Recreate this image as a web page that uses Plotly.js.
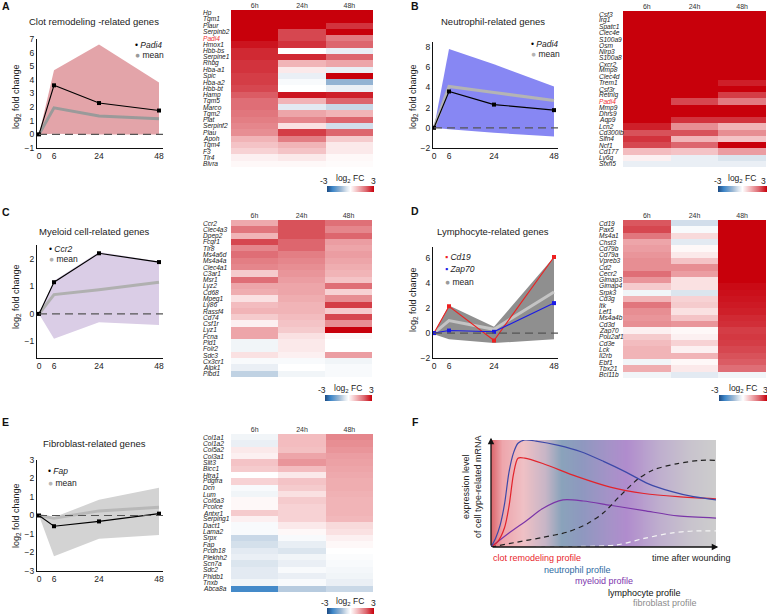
<!DOCTYPE html>
<html><head><meta charset="utf-8">
<script src="https://cdn.plot.ly/plotly-3.0.1.min.js"></script>
<style>html,body{margin:0;padding:0;background:#fff;}#chart{width:767px;height:615px;}</style>
</head><body><div id="chart"></div>
<script>
const W = 767, H = 615;
const FONT = 'Arial, "Liberation Sans", sans-serif';
const px = v => v / W;
const py = v => 1 - v / H;

// ---------- shared ----------
const timeH = [0, 6, 24, 48];
const timeLabels = ['0', '6', '24', '48'];
const hmCols = ['6h', '24h', '48h'];
const cbTicks = [-3, 3];
const cbTitle = 'log<sub>2</sub> FC';
const yTitle = 'log<sub>2</sub> fold change';
const highlightGene = 'Padi4';

// ---------- A: clot remodeling ----------
const clotTitle = 'Clot remodeling -related genes';
const clotPadi4 = [0, 3.6, 2.3, 1.75];
const clotMean = [0, 1.95, 1.35, 1.15];
const clotUpper = [0, 4.7, 6.6, 3.8];
const clotLower = [0, 0.05, 0.0, 0.0];
const clotGenes = ['Hp','Tgm1','Plaur','Serpinb2','Padi4','Hmox1','Hbb-bs','Serpine1','Rhbg','Hba-a1','Spic','Hba-a2','Hbb-bt','Hamp','Tgm5','Marco','Tgm2','Plat','Serpinf2','Plau','Apoh','Tgm4','F3','Tlr4','Blvra'];
const clot6h  = [3,3,3,3,3,2.8,2.6,2.6,2.5,2.5,2.4,2.4,2.3,2.1,1.9,1.9,1.8,1.7,1.6,1.5,1.0,0.8,0.6,0.2,0.1];
const clot24h = [3,3,3,2.3,2.3,2.5,0,2.6,1.0,0.3,-0.3,-0.1,0,2.8,1.0,-0.4,1.2,1.6,0.4,2.4,1.7,1.0,0.8,0.3,0.1];
const clot48h = [3,3,2.5,3,1.75,2.0,-0.3,2.0,1.2,-0.3,3,-1.3,-0.3,2.7,2.0,-0.7,1.0,2.0,-0.6,2.0,0.7,0.3,0.3,0.1,0.05];

// ---------- B: neutrophil ----------
const neuTitle = 'Neutrophil-related genes';
const neuPadi4 = [0, 3.6, 2.3, 1.75];
const neuMean = [0, 4.1, 3.5, 2.7];
const neuUpper = [0, 7.8, 6.3, 4.1];
const neuLower = [0, -0.15, -0.5, -0.85];
const neuGenes = ['Csf3','Irg1','Spatc1','Clec4e','S100a9','Osm','Nlrp3','S100a8','Cxcr2','Mmp8','Clec4d','Trem1','Csf3r','Retnlg','Padi4','Mmp9','Dhrs9','Aqp9','Lcn2','Cd300lb','Slfn4','Ncf1','Cd177','Ly6g','Sfxn5'];
const neu6h  = [3,3,3,3,3,3,3,3,3,3,3,3,3,3,3,3,3,3,2.7,2.2,2.5,2.3,0.9,0.2,-0.3];
const neu24h = [3,3,3,3,3,3,3,3,3,3,3,3,3,3,2.3,3,3,2.5,1.5,2.2,1.0,2.0,0.8,-0.3,-0.3];
const neu48h = [3,3,3,3,3,3,3,3,3,3,3,2.7,3,2.4,1.75,3,3,2.5,1.0,1.5,0.8,3,1.3,-0.5,-0.3];

// ---------- C: myeloid ----------
const myeTitle = 'Myeloid cell-related genes';
const myeCcr2 = [0, 1.15, 2.2, 1.88];
const myeMean = [0, 0.7, 0.88, 1.15];
const myeUpper = [0, 1.2, 2.25, 1.9];
const myeLower = [0, -0.9, -0.3, -0.4];
const myeGenes = ['Ccr2','Clec4a3','Dpep2','Fcgr1','Tlr8','Ms4a6d','Ms4a4a','Clec4a1','C3ar1','Msr1','Lyz2','Cd68','Mpeg1','Ly86','Rassf4','Cd74','Csf1r','Lyz1','Fcna','Pld1','Folr2','Sdc3','Cx3cr1','Alpk1','Plbd1'];
const mye6h  = [1.15,1.8,1.0,2.3,1.6,1.9,1.7,1.6,0.7,1.9,1.2,1.1,0.4,0.9,1.0,0.7,0.2,1.2,1.2,-0.2,-0.2,0.4,-0.1,-0.3,-0.8];
const mye24h = [2.2,2.2,2.2,2.0,2.0,1.7,1.6,1.5,1.4,1.3,1.2,1.2,1.1,1.0,1.0,0.9,0.8,0.7,0.4,0.3,0.3,0.2,-0.1,0,-0.2];
const mye48h = [1.88,1.6,2.0,1.3,1.2,1.3,1.2,1.1,1.0,0.8,1.9,0.6,1.5,2.4,0.7,2.3,1.5,3,0.1,0,0,1.3,-0.2,-0.1,-0.1];

// ---------- D: lymphocyte ----------
const lymTitle = 'Lymphocyte-related genes';
const lymCd19 = [0, 2.15, -0.6, 6.1];
const lymZap70 = [0, 0.2, 0.1, 2.4];
const lymMean = [0, 1.0, 0.3, 3.3];
const lymUpper = [0, 2.2, 0.5, 6.1];
const lymLower = [-0.1, -0.5, -0.8, -0.5];
const lymGenes = ['Cd19','Pax5','Ms4a1','Chst3','Cd79b','Cd79a','Vpreb3','Cd2','Cecr2','Gimap3','Gimap4','Srpk3','Cd3g','Itk','Lef1','Ms4a4b','Cd3d','Zap70','Pou2af1','Cd3e','Lck','Il2rb','Ebf1','Tbx21','Bcl11b'];
const lym6h  = [2.15,2.3,1.8,1.2,1.3,1.4,1.5,1.5,1.9,1.4,0.7,-0.2,1.0,1.8,1.5,1.4,1.5,0.2,0.7,0.9,1.0,1.0,-0.2,1.1,-0.2];
const lym24h = [-0.6,-0.1,0.5,-0.4,0.1,0.3,0.8,1.5,1.3,0.4,0.4,-0.5,0.6,0.7,0.4,0.8,1.4,0.1,0.2,0.6,0.2,1.0,0.1,0.3,-0.4];
const lym48h = [3,3,3,3,3,3,3,3,3,3,2.9,2.85,2.8,2.75,2.7,2.6,2.55,2.4,2.45,2.4,2.3,2.2,2.1,1.9,-0.2];

// ---------- E: fibroblast ----------
const fibTitle = 'Fibroblast-related genes';
const fibFap = [0, -0.58, -0.32, 0.1];
const fibMean = [0, -0.15, 0.25, 0.45];
const fibUpper = [0, -0.1, 0.85, 1.5];
const fibLower = [0, -2.2, -1.25, -1.05];
const fibGenes = ['Col1a1','Col1a2','Col5a2','Col3a1','Slit3','Bicc1','Htra1','Pdgfra','Dcn','Lum','Col6a3','Pcolce','Antxr1','Serping1','Dact1','Lama2','Srpx','Fap','Pcdh18','Plekhh2','Scn7a','Sdc2','Phldb1','Tnxb','Abca8a'];
const fib6h  = [-0.2,-0.3,0.3,0.2,0.8,0.7,0,0.6,-0.1,-0.2,0.1,0.1,0.7,0.2,-0.1,-0.1,-0.7,-0.58,-0.4,-0.3,-0.5,-0.4,-0.4,-0.2,-2.2];
const fib24h = [0.9,0.9,0.85,1.2,1.4,0.9,0.3,0.8,0.7,0.4,0.7,0.6,0.6,0.6,0.3,0.1,-0.1,-0.32,-0.5,-0.2,-0.3,-0.1,-0.3,-0.1,-0.9];
const fib48h = [1.6,1.5,1.4,1.3,1.25,1.2,1.15,1.1,1.1,1.05,1.0,1.0,1.0,0.95,0.5,0.4,0.2,0.1,0,-0.05,-0.1,-0.15,-0.2,-0.3,-0.7];

// ---------- F: schematic ----------
const fYTitle = 'expression level<br>of cell type-related mRNA';
const fXTitle = 'time after wounding';
const fProfiles = ['clot remodeling profile','neutrophil profile','myeloid profile','lymphocyte profile','fibroblast profile'];
const fProfileColors = ['#e8262d','#2e6ba3','#7d35ad','#111111','#8c8c8c'];
const fGradPos = [0, 5, 14, 24, 31, 40, 53, 60, 75, 88, 100];
const fGradColors = ['#dc666c','#eea6ac','#efc0c5','#c7b5c6','#8aa3bb','#8e98bf','#a692c8','#b08ccd','#bfafce','#c8c3cd','#cdcdcd'];
const clotCurveX = [0, 3, 6, 8, 10, 12, 15, 23, 38, 53, 68, 83, 100];
const clotCurveY = [0, 5, 18, 38, 68, 83, 83, 78, 66, 56, 50, 47, 45];
const neuCurveX = [0, 2, 4, 6, 8, 10, 12, 15, 20, 30, 40, 50, 60, 70, 80, 90, 100];
const neuCurveY = [0, 8, 20, 40, 70, 88, 97, 100, 99, 95, 89, 80, 70, 59, 52, 47, 44];
const myeCurveX = [0, 8, 16, 23, 32, 41, 53, 68, 83, 100];
const myeCurveY = [0, 13, 25, 36, 44, 43, 39, 34, 29, 27];
const lymCurveX = [0, 11.5, 23, 34, 43, 50, 57, 65, 72, 83, 93, 100];
const lymCurveY = [0, 4.5, 9, 14, 22, 32, 47, 63, 72, 78, 81, 81];
const fibCurveX = [20, 40, 56, 68, 80, 90, 100];
const fibCurveY = [0, 0.5, 2, 8, 13, 15, 15];

// ---------- build ----------
const traces = [], annotations = [], shapes = [];
const layout = {
  width: W, height: H, margin: {l:0, r:0, t:0, b:0},
  paper_bgcolor: '#ffffff', plot_bgcolor: 'rgba(0,0,0,0)',
  showlegend: false, font: {family: FONT, size: 8.5, color: '#222'},
  annotations, shapes
};
const sfx = i => (i === 1 ? '' : String(i));
const txt = (x, y, text, o = {}) => annotations.push(Object.assign({
  xref:'paper', yref:'paper', x: px(x), y: py(y), text, showarrow:false,
  xanchor:'center', yanchor:'middle', font:{family:FONT, size:9, color:'#222'}
}, o));

function linePanel(i, p) {
  const xa = 'x' + sfx(i), ya = 'y' + sfx(i);
  traces.push({type:'scatter', x:timeH, y:p.lower, xaxis:xa, yaxis:ya, mode:'lines', line:{width:0, color:p.band}, hoverinfo:'skip'});
  traces.push({type:'scatter', x:timeH, y:p.upper, xaxis:xa, yaxis:ya, mode:'lines', line:{width:0, color:p.band}, fill:'tonexty', fillcolor:p.band, hoverinfo:'skip'});
  traces.push({type:'scatter', x:timeH, y:p.mean, xaxis:xa, yaxis:ya, mode:'lines', line:{width:3, color:p.meanColor}});
  p.series.forEach(s => traces.push({type:'scatter', x:timeH, y:s.y, xaxis:xa, yaxis:ya, mode:'lines+markers',
    line:{width:1.1, color:s.color}, marker:{size:4, symbol:'square', color:s.color}}));
  layout['xaxis' + sfx(i)] = {domain:[px(p.xpx[0]), px(p.xpx[1])], range:p.xr, anchor:ya,
    tickmode:'array', tickvals:timeH, ticktext:timeLabels, showline:true, linecolor:'#111', linewidth:1,
    ticks:'', showgrid:false, zeroline:false, tickfont:{size:8.5, color:'#222'}, fixedrange:true};
  layout['yaxis' + sfx(i)] = {domain:[py(p.ypx[1]), py(p.ypx[0])], range:p.yr, anchor:xa, dtick:p.dtick,
    showline:true, linecolor:'#111', linewidth:1, ticks:'', showgrid:false, zeroline:false,
    tickfont:{size:8.5, color:'#222'}, fixedrange:true};
  shapes.push({type:'line', xref:xa, yref:ya, x0:0, x1:p.xr[1], y0:0, y1:0, layer:'above',
    line:{color:'#555', width:1.2, dash:'8px,5px'}});
  txt(p.titlePos[0], p.titlePos[1], p.title, {font:{family:FONT, size:9.5, color:'#222'}});
  txt(p.yTitlePos[0], p.yTitlePos[1], yTitle, {textangle:-90, font:{family:FONT, size:9, color:'#222'}});
  p.legend.forEach(l => {
    txt(l.x, l.y, `<span style="color:${l.color}">${l.sym}</span> ${l.name}`, {xanchor:'left', font:{family:FONT, size:8.5, color:'#222'}});
  });
}

const hmScale = [[0,'#1d4a82'],[0.12,'#3d86c8'],[0.3,'#9cb8d4'],[0.42,'#dde6ef'],[0.5,'#ffffff'],[0.67,'#f1b3b6'],[0.83,'#dd6870'],[1,'#c8000b']];

function heatPanel(i, h) {
  const xa = 'x' + i, ya = 'y' + i;
  const z = h.genes.map((g, k) => [h.c6[k], h.c24[k], h.c48[k]]);
  const barW = h.bar[1] - h.bar[0];
  traces.push({type:'heatmap', x:hmCols, y:h.genes, z, xaxis:xa, yaxis:ya, colorscale:hmScale, zmin:-3, zmax:3,
    showscale:true, hoverinfo:'skip',
    colorbar:{orientation:'h', x:px((h.bar[0]+h.bar[1])/2), xanchor:'center', y:py(h.bar[3]), yanchor:'bottom',
      len:barW, lenmode:'pixels', thickness:h.bar[3]-h.bar[2], thicknessmode:'pixels',
      showticklabels:false, ticks:'', outlinewidth:0, xpad:0, ypad:0}});
  layout['xaxis' + i] = {domain:[px(h.xpx[0]), px(h.xpx[1])], anchor:ya, side:'top', type:'category',
    ticks:'', showline:false, showgrid:false, zeroline:false, tickfont:{size:7, color:'#333'}, fixedrange:true};
  layout['yaxis' + i] = {domain:[py(h.ypx[1]), py(h.ypx[0])], anchor:xa, type:'category',
    range:[h.genes.length - 0.5, -0.5], showticklabels:false, ticks:'', showgrid:false, zeroline:false, fixedrange:true};
  h.genes.forEach((g, k) => annotations.push({xref:'paper', yref:ya, x:px(h.labelX), y:k, xanchor:'left', yanchor:'middle',
    text:`<i>${g}</i>`, showarrow:false, font:{family:FONT, size:6.6, color: g === highlightGene && h.hl ? '#f03030' : '#222'}}));
  txt(h.cbText[0], h.cbText[3], String(cbTicks[0]), {font:{family:FONT, size:8.5, color:'#222'}});
  txt(h.cbText[2], h.cbText[3], String(cbTicks[1]), {font:{family:FONT, size:8.5, color:'#222'}});
  txt(h.cbText[1], h.cbText[3] - 2, cbTitle, {font:{family:FONT, size:8.5, color:'#222'}});
}

// line panels
linePanel(1, {xpx:[37,163], ypx:[39,148], xr:[-0.8,49.6], yr:[-1,7], dtick:1, band:'#e3a4a9', meanColor:'#9a9a9a',
  lower:clotLower, upper:clotUpper, mean:clotMean, series:[{y:clotPadi4, color:'#000'}],
  title:clotTitle, titlePos:[94,21], yTitlePos:[16,97],
  legend:[{x:133, y:45, color:'#000', sym:'•', name:'<i>Padi4</i>'}, {x:133, y:55, color:'#9a9a9a', sym:'●', name:'mean'}]});
linePanel(2, {xpx:[433,558], ypx:[42,148], xr:[-0.4,49.6], yr:[-2,8.5], dtick:2, band:'#8787f3', meanColor:'#b4b4b4',
  lower:neuLower, upper:neuUpper, mean:neuMean, series:[{y:neuPadi4, color:'#000'}],
  title:neuTitle, titlePos:[493,21], yTitlePos:[413,97],
  legend:[{x:529, y:44, color:'#000', sym:'•', name:'<i>Padi4</i>'}, {x:529, y:54, color:'#b4b4b4', sym:'●', name:'mean'}]});
linePanel(3, {xpx:[37,163], ypx:[245,358], xr:[-0.8,49.6], yr:[-1.6,2.5], dtick:1, band:'#dacde6', meanColor:'#b0b0b0',
  lower:myeLower, upper:myeUpper, mean:myeMean, series:[{y:myeCcr2, color:'#000'}],
  title:myeTitle, titlePos:[94,231], yTitlePos:[16,297],
  legend:[{x:47, y:249, color:'#000', sym:'•', name:'<i>Ccr2</i>'}, {x:47, y:259, color:'#b0b0b0', sym:'●', name:'mean'}]});
linePanel(4, {xpx:[433,558], ypx:[247,358], xr:[-0.4,49.6], yr:[-2,6.9], dtick:2, band:'#8f8f8f', meanColor:'#c4c4c4',
  lower:lymLower, upper:lymUpper, mean:lymMean, series:[{y:lymCd19, color:'#ee2020'}, {y:lymZap70, color:'#1a1ae6'}],
  title:lymTitle, titlePos:[493,231], yTitlePos:[413,300],
  legend:[{x:443, y:257, color:'#ee2020', sym:'▪', name:'<i>Cd19</i>'}, {x:443, y:269, color:'#1a1ae6', sym:'▪', name:'<i>Zap70</i>'},
          {x:443, y:282, color:'#9a9a9a', sym:'●', name:'mean'}]});
linePanel(5, {xpx:[37,163], ypx:[460,571], xr:[-0.8,49.6], yr:[-3,3], dtick:1, band:'#d3d3d3', meanColor:'#b8b8b8',
  lower:fibLower, upper:fibUpper, mean:fibMean, series:[{y:fibFap, color:'#000'}],
  title:fibTitle, titlePos:[94,443], yTitlePos:[16,516],
  legend:[{x:46, y:471, color:'#000', sym:'•', name:'<i>Fap</i>'}, {x:46, y:483, color:'#b8b8b8', sym:'●', name:'mean'}]});

// heatmaps
heatPanel(6,  {genes:clotGenes, c6:clot6h, c24:clot24h, c48:clot48h, xpx:[231,373], ypx:[10,167], labelX:201, hl:true,
  bar:[327,374,186,192], cbText:[324,350,373,181]});
heatPanel(7,  {genes:neuGenes, c6:neu6h, c24:neu24h, c48:neu48h, xpx:[623,766], ypx:[11,167], labelX:597, hl:true,
  bar:[718,767,186,192], cbText:[718,742,763,181]});
heatPanel(8,  {genes:myeGenes, c6:mye6h, c24:mye24h, c48:mye48h, xpx:[231,372], ypx:[220,377], labelX:201, hl:false,
  bar:[325,372,395,401], cbText:[322,348,371,390]});
heatPanel(9,  {genes:lymGenes, c6:lym6h, c24:lym24h, c48:lym48h, xpx:[623,766], ypx:[220,378], labelX:597, hl:false,
  bar:[719,767,395,401], cbText:[715,743,765,390]});
heatPanel(10, {genes:fibGenes, c6:fib6h, c24:fib24h, c48:fib48h, xpx:[231,373], ypx:[434,592], labelX:201, hl:false,
  bar:[327,374,608,614], cbText:[325,350,373,603]});

// panel F
traces.push({type:'heatmap', x:fGradPos, y:[0,100], z:[fGradPos, fGradPos], xaxis:'x11', yaxis:'y11',
  colorscale:fGradPos.map((p, k) => [p/100, fGradColors[k]]), zmin:0, zmax:100, zsmooth:'best', showscale:false, hoverinfo:'skip'});
const fCurve = (x, y, color, dash) => traces.push({type:'scatter', x, y, xaxis:'x11', yaxis:'y11', mode:'lines',
  line:{color, width:1.2, shape:'spline', smoothing:0.8, dash: dash || 'solid'}, hoverinfo:'skip'});
fCurve(myeCurveX, myeCurveY, '#7a35a8');
fCurve(clotCurveX, clotCurveY, '#e2232b');
fCurve(neuCurveX, neuCurveY, '#3c48a8');
fCurve(lymCurveX, lymCurveY, '#222222', '5px,4px');
fCurve(fibCurveX, fibCurveY, '#f4f4f4', '5px,4px');
layout.xaxis11 = {domain:[px(491), px(716)], range:[0,100], anchor:'y11', visible:false, fixedrange:true};
layout.yaxis11 = {domain:[py(547), py(440)], range:[0,100], anchor:'x11', visible:false, fixedrange:true};
annotations.push({xref:'x11', yref:'y11', axref:'x11', ayref:'y11', x:0, y:102, ax:0, ay:0, text:'', showarrow:true,
  arrowhead:2, arrowsize:1, arrowwidth:1.3, arrowcolor:'#111'});
annotations.push({xref:'x11', yref:'y11', axref:'x11', ayref:'y11', x:101, y:0, ax:0, ay:0, text:'', showarrow:true,
  arrowhead:2, arrowsize:1, arrowwidth:1.3, arrowcolor:'#111'});
txt(472, 487, fYTitle, {textangle:-90, font:{family:FONT, size:9, color:'#222'}});
txt(733, 558, fXTitle, {xanchor:'right', font:{family:FONT, size:9, color:'#222'}});
const fLabelPos = [[491,558],[542,570],[573,581],[606,593],[631,603]];
fProfiles.forEach((t, k) => txt(fLabelPos[k][0], fLabelPos[k][1], t, {xanchor:'left', font:{family:FONT, size:9, color:fProfileColors[k]}}));

// panel letters
const panelLetters = ['A','B','C','D','E','F'];
const letterPos = [[0,6],[409,6],[0,212],[409,211],[0,422],[410,422]];
panelLetters.forEach((t, k) => txt(letterPos[k][0], letterPos[k][1], `<b>${t}</b>`, {xanchor:'left', font:{family:FONT, size:10.5, color:'#111'}}));

Plotly.newPlot('chart', traces, layout, {staticPlot:true, displayModeBar:false});
</script></body></html>
